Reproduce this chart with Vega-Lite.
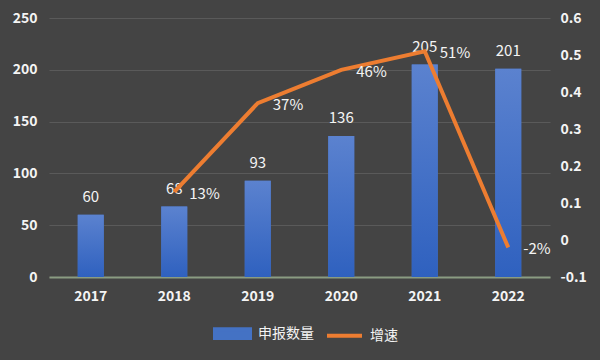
{
  "$schema": "https://vega.github.io/schema/vega-lite/v6.json",
  "width": 501,
  "height": 259,
  "autosize": {"type": "none"},
  "padding": {"left": 49, "top": 18, "right": 50, "bottom": 83},
  "background": "#444444",
  "config": {
    "view": {"stroke": null},
    "font": "Noto Sans CJK SC",
    "locale": {"number": {"decimal": ".", "thousands": ",", "grouping": [3], "currency": ["$", ""], "minus": "-"}},
    "axis": {"labelColor": "#f4f4f4", "labelFontSize": 14, "labelFontWeight": "bold", "ticks": false, "domain": false, "grid": false, "title": null, "labelOverlap": false}
  },
  "data": {"values": [
    {"year": "2017", "count": 60, "rate": null},
    {"year": "2018", "count": 68, "rate": 0.13},
    {"year": "2019", "count": 93, "rate": 0.37},
    {"year": "2020", "count": 136, "rate": 0.46},
    {"year": "2021", "count": 205, "rate": 0.51},
    {"year": "2022", "count": 201, "rate": -0.02}
  ]},
  "encoding": {
    "x": {"field": "year", "type": "nominal", "scale": {"paddingInner": 0, "paddingOuter": 0},
      "axis": {"labelAngle": 0, "labelPadding": 12, "domain": true, "domainColor": "#8a9c82", "domainWidth": 2}}
  },
  "layer": [
    {
      "layer": [
        {
          "mark": {"type": "bar", "size": 26},
          "encoding": {
            "y": {"field": "count", "type": "quantitative", "scale": {"domain": [0, 250], "nice": false},
              "axis": {"values": [0, 50, 100, 150, 200, 250], "grid": true, "gridColor": "#5a5a5a", "gridWidth": 1, "labelPadding": 12, "orient": "left"}},
            "color": {"datum": "申报数量", "type": "nominal",
              "scale": {"domain": ["申报数量", "增速"], "range": ["#4472c4", "#ed7d31"]},
              "legend": {"orient": "none", "legendX": 164, "legendY": 296, "title": null, "direction": "horizontal",
                "labelColor": "#f4f4f4", "labelFontSize": 14, "symbolSize": 1225, "symbolStrokeWidth": 4,
                "columnPadding": 5, "labelOffset": 6,
                "encode": {"symbols": {"update": {
                  "shape": {"signal": "datum.value === '增速' ? 'M-1,0H1' : 'M-1,-0.25H1V0.25H-1Z'"},
                  "strokeWidth": {"value": 4}
                }}}}}
          }
        },
        {
          "mark": {"type": "bar", "size": 26,
            "fill": {"gradient": "linear", "x1": 0, "y1": 0, "x2": 0, "y2": 1, "stops": [{"offset": 0, "color": "#5b82cf"}, {"offset": 1, "color": "#2f61bf"}]}},
          "encoding": {
            "y": {"field": "count", "type": "quantitative"}
          }
        },
        {
          "mark": {"type": "text", "color": "#f4f4f4", "fontSize": 15, "baseline": "middle", "dy": -18},
          "encoding": {
            "y": {"field": "count", "type": "quantitative"},
            "text": {"field": "count", "type": "quantitative"}
          }
        }
      ]
    },
    {
      "transform": [{"filter": "datum.rate != null"}],
      "encoding": {
        "y": {"field": "rate", "type": "quantitative", "scale": {"domain": [-0.1, 0.6], "nice": false},
          "axis": {"orient": "right", "values": [-0.1, 0, 0.1, 0.2, 0.3, 0.4, 0.5, 0.6], "format": ".1~f", "labelPadding": 10, "labelOverlap": false}}
      },
      "layer": [
        {
          "mark": {"type": "line", "strokeWidth": 4, "strokeJoin": "miter"},
          "encoding": {
            "color": {"datum": "增速", "type": "nominal"}
          }
        },
        {
          "mark": {"type": "text", "color": "#f4f4f4", "fontSize": 15, "align": "left", "baseline": "middle", "dx": 15, "dy": 2},
          "encoding": {
            "text": {"field": "rate", "type": "quantitative", "format": ".0%"}
          }
        }
      ]
    }
  ],
  "resolve": {"scale": {"y": "independent"}}
}
